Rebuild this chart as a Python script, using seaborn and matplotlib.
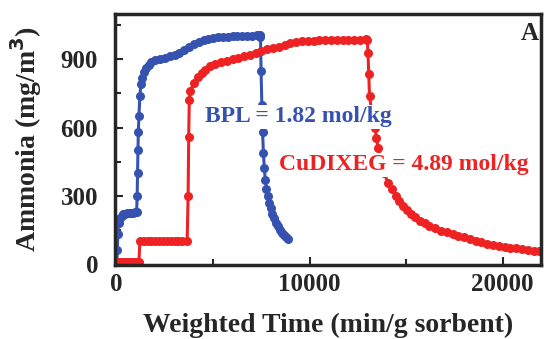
import matplotlib
matplotlib.use("Agg")
import matplotlib.pyplot as plt
from matplotlib.ticker import MultipleLocator
import seaborn as sns
import pandas as pd

bpl_x = [0, 30, 60, 100, 150, 250, 350, 450, 550, 650, 750, 850, 950, 1030,
         1060, 1080, 1100, 1120, 1150, 1200, 1250, 1300, 1400, 1500, 1650, 1800,
         2000, 2250, 2500, 2750, 3000, 3250, 3500, 3750, 4000, 4250, 4500, 4750,
         5000, 5250, 5500, 5750, 6000, 6250, 6500, 6750, 7000, 7250, 7400,
         7450, 7480, 7520, 7560, 7600, 7650, 7700, 7760, 7830, 7900, 7980, 8060,
         8150, 8250, 8350, 8450, 8550, 8650, 8750, 8850]
bpl_y = [0, 60, 130, 180, 200, 212, 218, 220, 222, 223, 224, 225, 228, 230,
         300, 400, 500, 580, 650, 740, 790, 820, 845, 860, 875, 888,
         897, 903, 908, 913, 920, 930, 942, 955, 967, 977, 985, 990,
         994, 997, 999, 1000, 1001, 1002, 1003, 1004, 1004, 1005, 1005,
         1000, 850, 700, 580, 490, 420, 370, 330, 300, 270, 245, 220,
         200, 180, 165, 150, 138, 128, 120, 112]

cu_x = [0, 150, 300, 450, 600, 750, 900, 1050, 1150, 1200, 1400, 1600, 1800,
        2000, 2200, 2400, 2600, 2800, 3000, 3200, 3400, 3650, 3700, 3730, 3760,
        3800, 4000, 4200, 4400, 4600, 4850, 5100, 5400, 5700, 6000, 6300, 6600,
        6900, 7200, 7500, 7800, 8100, 8400, 8700, 9000, 9300, 9600, 9900, 10200,
        10500, 10800, 11100, 11400, 11700, 12000, 12300, 12600, 12900, 12980,
        13020, 13060, 13100, 13250, 13400, 13450, 13550, 13700, 13850,
        14060, 14250, 14450, 14650, 14850, 15050, 15250, 15450, 15700, 15950,
        16200, 16500, 16800, 17100, 17400, 17700, 18000, 18300, 18600, 18900,
        19200, 19500, 19800, 20100, 20400, 20700, 21000, 21300, 21600, 21900, 22100]
cu_y = [10, 10, 10, 10, 10, 10, 10, 10, 10, 100, 100, 100, 100,
        100, 100, 100, 100, 100, 100, 100, 100, 100, 300, 560, 720,
        759, 795, 822, 840, 855, 869, 878, 887, 894, 900, 907, 913,
        920, 928, 936, 944, 950, 955, 964, 972, 976, 979, 981, 982,
        983, 984, 984, 985, 985, 986, 986, 987, 988, 985,
        930, 834, 737, 650, 600, 556, 512, 450, 400,
        357, 330, 300, 275, 255, 237, 220, 205, 190, 178,
        167, 157, 147, 139, 131, 124, 117, 110, 102, 95,
        90, 85, 80, 76, 72, 69, 65, 62, 58, 55, 53]

series_names = ["BPL", "CuDIXEG"]
colors = {"BPL": "#3652b0", "CuDIXEG": "#ee2222"}

df = pd.concat([
    pd.DataFrame({"t": bpl_x, "nh3": bpl_y, "s": "BPL"}),
    pd.DataFrame({"t": cu_x, "nh3": cu_y, "s": "CuDIXEG"}),
])

sns.set_style("ticks")
plt.rcParams["font.family"] = ["Liberation Serif", "DejaVu Serif"]
plt.rcParams["font.weight"] = "bold"

fig = plt.figure(figsize=(5.44, 3.39), dpi=100)
ax = fig.add_axes([0.211, 0.218, 0.784, 0.741])

for name in series_names:
    sub = df[df["s"] == name]
    sns.lineplot(data=sub, x="t", y="nh3", ax=ax, color=colors[name], lw=2.2,
                 marker="o", markersize=6.5, markeredgewidth=0, sort=False,
                 estimator=None, legend=False, zorder=2)

ax.set_xlim(-100, 22000)
ax.set_ylim(-5, 1100)
ax.xaxis.set_major_locator(MultipleLocator(10000))
ax.xaxis.set_minor_locator(MultipleLocator(5000))
ax.yaxis.set_major_locator(MultipleLocator(300))
ax.yaxis.set_minor_locator(MultipleLocator(150))
ax.tick_params(which="both", direction="in", width=1.5, top=False, right=False)
ax.tick_params(which="major", length=6, labelsize=18)
ax.tick_params(axis="x", which="major", pad=6)
ax.tick_params(axis="y", which="major", pad=12)
ax.tick_params(which="minor", length=4)
for lab in ax.get_xticklabels() + ax.get_yticklabels():
    lab.set_fontweight("bold")
for sp in ax.spines.values():
    sp.set_linewidth(2.5)
    sp.set_visible(True)

ax.set_xlabel("Weighted Time (min/g sorbent)", fontsize=20, fontweight="bold", labelpad=12)
ax.set_ylabel("Ammonia (mg/m$^{\\mathbf{3}}$)", fontsize=20, fontweight="bold", labelpad=12)

ax.text(4600, 648, "BPL = 1.82 mol/kg", color=colors["BPL"], fontsize=17,
        fontweight="bold", va="center", ha="left", zorder=5,
        bbox=dict(facecolor="white", edgecolor="none", pad=1))
ax.text(8400, 437, "CuDIXEG = 4.89 mol/kg", color=colors["CuDIXEG"], fontsize=17,
        fontweight="bold", va="center", ha="left", zorder=5,
        bbox=dict(facecolor="white", edgecolor="none", pad=1))
ax.text(0.995, 0.92, "A", transform=ax.transAxes, fontsize=18, fontweight="bold",
        ha="right", va="center")

fig.savefig("out.png", dpi=100)
